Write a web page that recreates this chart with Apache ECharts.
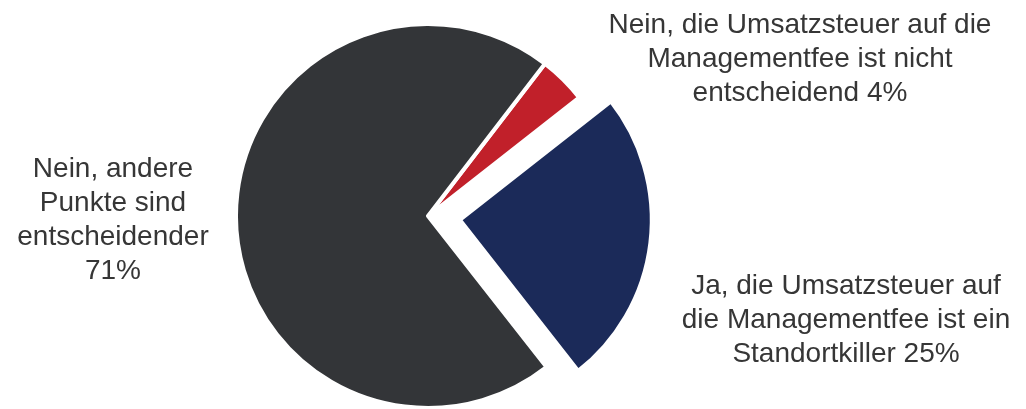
<!DOCTYPE html>
<html>
<head>
<meta charset="utf-8">
<script src="https://cdn.jsdelivr.net/npm/echarts@6/dist/echarts.min.js"></script>
<style>
  html, body { margin: 0; padding: 0; background: #fff; }
  #chart { width: 1026px; height: 409px; }
</style>
</head>
<body>
<div id="chart"></div>
<script>
// slices, clockwise starting at the small red one
const categories = [
  'Nein, die Umsatzsteuer auf die\nManagementfee ist nicht\nentscheidend',
  'Ja, die Umsatzsteuer auf\ndie Managementfee ist ein\nStandortkiller',
  'Nein, andere\nPunkte sind\nentscheidender'
]
const values = [4, 25, 71]
const colors = ['#c1202a', '#1b2a59', '#333538']
const exploded = [false, true, false]
// where the % sits: same line or its own line
const percentSep = [' ', ' ', '\n']

// label block centres (px)
const labelPos = [[800, 59], [846, 320], [113, 220]]

const chart = echarts.init(document.getElementById('chart'), null, { renderer: 'canvas' })

// the select state ignores labelLayout, so the labels are drawn as graphic text
const labels = categories.map((name, i) => ({
  type: 'text',
  x: labelPos[i][0],
  y: labelPos[i][1],
  style: {
    text: name + percentSep[i] + values[i] + '%',
    fill: '#363636',
    font: '28px "Liberation Sans", Arial, sans-serif',
    lineHeight: 34,
    align: 'center',
    verticalAlign: 'middle'
  }
}))

chart.setOption({
  animation: false,
  graphic: labels,
  series: [{
    type: 'pie',
    center: [428, 216],
    radius: 192,
    startAngle: 52.5,
    clockwise: true,
    selectedMode: 'multiple',
    selectedOffset: 32,
    emphasis: { disabled: true },
    itemStyle: { borderColor: '#fff', borderWidth: 4 },
    label: { show: false },
    labelLine: { show: false },
    data: categories.map((name, i) => ({
      name,
      value: values[i],
      selected: exploded[i],
      itemStyle: { color: colors[i] }
    }))
  }]
})
</script>
</body>
</html>
